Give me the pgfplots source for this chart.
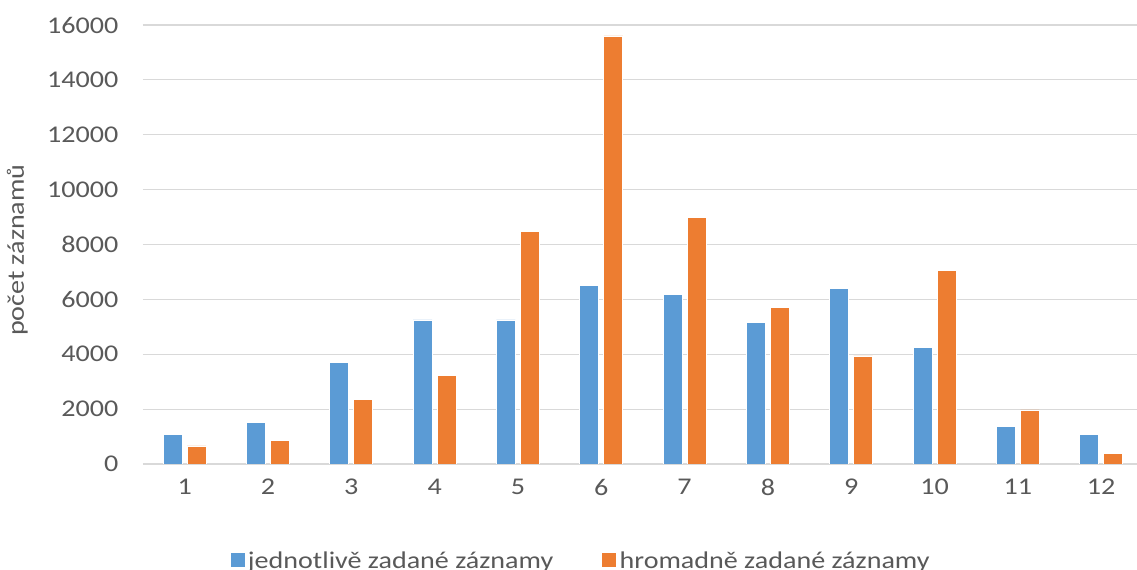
\documentclass[border=0pt]{standalone}
\usepackage{pgfplots}
\pgfplotsset{compat=1.18}
\usepackage{fontspec}
\setmainfont{Carlito}[FakeStretch=1.17]
\definecolor{blu}{HTML}{5B9BD5}
\definecolor{ora}{HTML}{ED7D31}
\definecolor{txt}{HTML}{595959}
\definecolor{grd}{HTML}{D9D9D9}

\begin{document}
\begin{tikzpicture}
\begin{axis}[
    scale only axis,
    width=745.5pt, height=329.25pt,
    ybar=3.75pt, bar width=14.25pt,
    xmin=0.5, xmax=12.43,
    ymin=0, ymax=16000,
    xtick={1,...,12}, ytick={0,2000,...,16000},
    major tick length=0pt,
    axis line style={draw=none},
    ymajorgrids, major grid style={grd, line width=0.9pt},
    scaled y ticks=false,
    /pgf/number format/assume math mode=true,
    yticklabel style={/pgf/number format/set thousands separator={}, xshift=-15pt},
    xticklabel style={yshift=-8pt},
    tick label style={font=\fontsize{18}{22}\selectfont, text=txt},
    ylabel={počet záznamů},
    every axis y label/.style={at={(axis description cs:-0.1264,0.487)}, rotate=90, anchor=center,
        font=\fontsize{18}{22}\selectfont, text=txt},
    legend style={at={(axis description cs:0.4406,-0.221)}, anchor=center, draw=none,
        font=\fontsize{18}{22}\selectfont, text=txt, legend columns=2,
        /tikz/every even column/.append style={column sep=34pt}},
    legend image code/.code={\fill[#1] (0pt,-4.5pt) rectangle (11.25pt,6.75pt);},
]
\addplot[fill=blu, draw=white, line width=0.5pt] coordinates {
    (1,1090) (2,1510) (3,3710) (4,5250) (5,5250) (6,6510) (7,6180) (8,5150) (9,6410) (10,4260) (11,1360) (12,1080)
};
\addplot[fill=ora, draw=white, line width=0.5pt] coordinates {
    (1,660) (2,850) (3,2350) (4,3240) (5,8470) (6,15600) (7,8980) (8,5720) (9,3940) (10,7070) (11,1970) (12,390)
};
\legend{jednotlivě zadané záznamy, hromadně zadané záznamy}
\end{axis}
\pgfresetboundingbox
\path[use as bounding box] ([xshift=-107.25pt,yshift=-79.5pt]current axis.south west)
    rectangle ([xshift=745.5pt,yshift=348pt]current axis.south west);
\end{tikzpicture}
\end{document}
